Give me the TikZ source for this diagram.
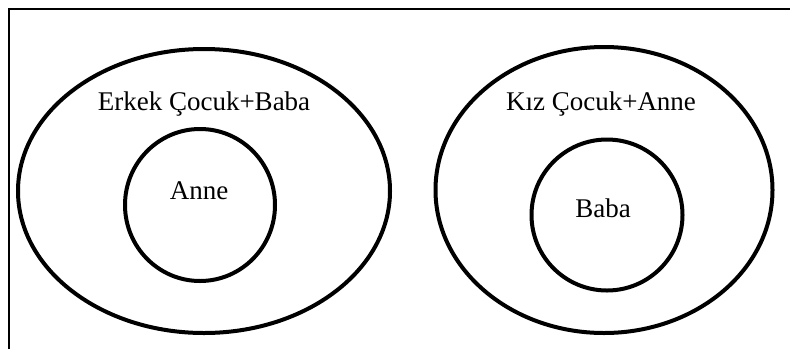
\documentclass[tikz,border=0pt]{standalone}
\usepackage{fontspec}
\setmainfont{Liberation Serif}
\usetikzlibrary{positioning, shapes.geometric}

\begin{document}
\begin{tikzpicture}[
  x=1pt, y=-1pt,
  every node/.style={font=\fontsize{27}{31}\selectfont},
  ring/.style={draw, ellipse, line width=4pt, inner sep=0pt},
  lbl/.style={inner sep=0pt, anchor=center}
]
\useasboundingbox (0,0) rectangle (790,349);

% frame (left and top edge only)
\draw[line width=2pt] (9,349) -- (9,9) -- (790,9);

% left set
\node[ring, minimum width=372pt, minimum height=284pt] (boyset) at (204,191) {};
\node[ring, minimum width=150pt, minimum height=152pt] (boyin) at (200,205) {};
\node[lbl] (boytxt) at (204,104) {Erkek Çocuk+Baba};
\node[lbl] (boyinner) at (199,191) {Anne};

% right set
\node[ring, minimum width=337pt, minimum height=286pt] (girlset) at (604,190) {};
\node[ring, minimum width=151pt, minimum height=151pt] (girlin) at (607,215) {};
\node[lbl] (girltxt) at (601,104) {Kız Çocuk+Anne};
\node[lbl] (girlinner) at (603,208) {Baba};

\end{tikzpicture}
\end{document}
